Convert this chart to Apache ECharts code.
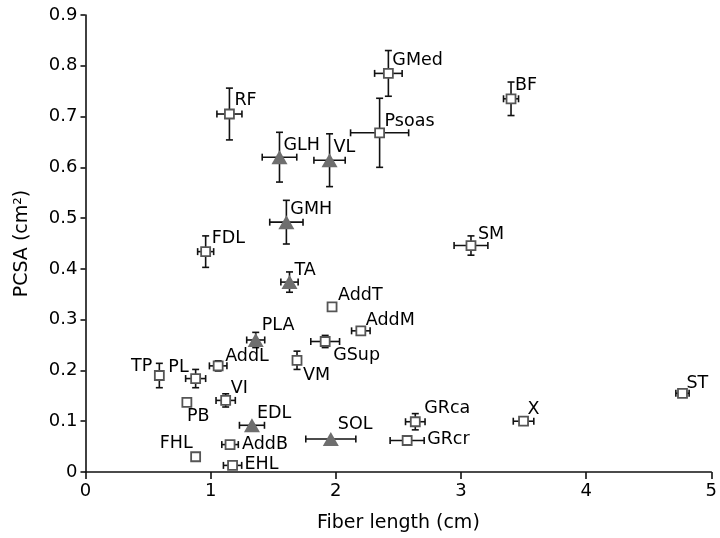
<!DOCTYPE html>
<html>
<head>
<meta charset="utf-8">
<script src="https://cdn.jsdelivr.net/npm/echarts@6/dist/echarts.min.js"></script>
<style>
  html, body { margin: 0; padding: 0; background: #fff; }
  #chart { width: 720px; height: 538px; }
</style>
</head>
<body>
<div id="chart"></div>
<script>
// muscle data: fiber length (cm) and PCSA (cm^2), each with +/- error
var muscles      = ['GMed', 'RF',  'GLH', 'VL',  'Psoas', 'BF',  'GMH', 'FDL', 'TA',  'PLA', 'AddL', 'TP',  'PL',  'VI',  'PB',  'EDL', 'FHL', 'AddB', 'EHL', 'SOL', 'AddT', 'AddM', 'GSup', 'VM',  'GRca', 'GRcr', 'X',   'SM',  'ST'];
var fiberLength  = [2.42,   1.15,  1.55,  1.95,  2.35,    3.40,  1.605, 0.96,  1.63,  1.36,  1.06,   0.59,  0.88,  1.12,  0.81,  1.33,  0.88,  1.155,  1.175, 1.96,  1.97,   2.20,   1.915,  1.69,  2.635,  2.57,   3.50,  3.08,  4.77];
var fiberErr     = [0.11,   0.10,  0.138, 0.125, 0.232,   0.06,  0.133, 0.064, 0.069, 0.072, 0.07,   0,     0.08,  0.077, 0,     0.10,  0,     0.066,  0.073, 0.20,  0,      0.074,  0.115,  0.027, 0.078,  0.136,  0.082, 0.135, 0.053];
var pcsa         = [0.785,  0.705, 0.62,  0.614, 0.668,   0.735, 0.492, 0.434, 0.374, 0.26,  0.209,  0.19,  0.184, 0.141, 0.137, 0.092, 0.03,  0.054,  0.013, 0.065, 0.325,  0.278,  0.257,  0.22,  0.099,  0.062,  0.10,  0.446, 0.155];
var pcsaErr      = [0.045,  0.051, 0.049, 0.052, 0.068,   0.033, 0.043, 0.031, 0.02,  0.015, 0.01,   0.024, 0.018, 0.013, 0,     0,     0,     0,      0,     0,     0,      0,      0.012,  0.018, 0.016,  0,      0,     0.019, 0];
var triangleMuscles = ['GLH', 'VL', 'GMH', 'TA', 'PLA', 'EDL', 'SOL'];
var xTicks = [0, 1, 2, 3, 4, 5];
var yTicks = [0, 0.1, 0.2, 0.3, 0.4, 0.5, 0.6, 0.7, 0.8, 0.9];

// label placement: [dx, dy, align] from the marker centre
var labelAt = {
  GMed: [4, -13, 'left'], RF: [5, -14, 'left'], GLH: [4, -12, 'left'], VL: [4, -13, 'left'],
  Psoas: [5, -11, 'left'], BF: [4, -13, 'left'], GMH: [4, -13, 'left'], FDL: [6, -13, 'left'],
  TA: [5, -12, 'left'], PLA: [6, -15, 'left'], AddL: [7, -9, 'left'], TP: [-7, -9, 'right'],
  PL: [-7, -11, 'right'], VI: [5, -12, 'left'], PB: [0, 14, 'left'], EDL: [5, -12, 'left'],
  FHL: [-3, -13, 'right'], AddB: [12, 0, 'left'], EHL: [12, -1, 'left'], SOL: [7, -15, 'left'],
  AddT: [6, -12, 'left'], AddM: [5, -10, 'left'], GSup: [8, 14, 'left'], VM: [6, 15, 'left'],
  GRca: [9, -13, 'left'], GRcr: [20, -1, 'left'], X: [4, -12, 'left'], SM: [7, -11, 'left'],
  ST: [4, -10, 'left']
};

var FONT = '"DejaVu Sans", sans-serif';

function pointItem(i) {
  var name = muscles[i];
  var p = labelAt[name] || [5, -12, 'left'];
  return {
    name: name,
    value: [fiberLength[i], pcsa[i]],
    label: {
      show: true, position: ['50%', '50%'], formatter: name,
      offset: [p[0], p[1]], align: p[2], verticalAlign: 'middle'
    }
  };
}

var squareData = [], triangleData = [], errData = [];
muscles.forEach(function (m, i) {
  errData.push([fiberLength[i], pcsa[i], fiberErr[i], pcsaErr[i]]);
  if (triangleMuscles.indexOf(m) >= 0) triangleData.push(pointItem(i));
  else squareData.push(pointItem(i));
});

function renderErr(params, api) {
  var x = api.value(0), y = api.value(1), ex = api.value(2), ey = api.value(3);
  var style = { stroke: '#111', lineWidth: 1.6 };
  var cap = 3.5;
  var kids = [];
  if (ex > 0) {
    var a = api.coord([x - ex, y]), b = api.coord([x + ex, y]);
    kids.push({ type: 'line', shape: { x1: a[0], y1: a[1], x2: b[0], y2: b[1] }, style: style });
    kids.push({ type: 'line', shape: { x1: a[0], y1: a[1] - cap, x2: a[0], y2: a[1] + cap }, style: style });
    kids.push({ type: 'line', shape: { x1: b[0], y1: b[1] - cap, x2: b[0], y2: b[1] + cap }, style: style });
  }
  if (ey > 0) {
    var c = api.coord([x, y - ey]), d = api.coord([x, y + ey]);
    kids.push({ type: 'line', shape: { x1: c[0], y1: c[1], x2: d[0], y2: d[1] }, style: style });
    kids.push({ type: 'line', shape: { x1: c[0] - cap, y1: c[1], x2: c[0] + cap, y2: c[1] }, style: style });
    kids.push({ type: 'line', shape: { x1: d[0] - cap, y1: d[1], x2: d[0] + cap, y2: d[1] }, style: style });
  }
  return { type: 'group', children: kids };
}

var labelStyle = { fontSize: 17.5, color: '#000', fontFamily: FONT, textBorderWidth: 0, opacity: 1 };

var chart = echarts.init(document.getElementById('chart'));
chart.setOption({
  animation: false,
  textStyle: { fontFamily: FONT },
  grid: { left: 85.5, right: 6, top: 15, bottom: 66 },
  xAxis: {
    type: 'value', min: xTicks[0], max: xTicks[xTicks.length - 1], interval: 1,
    name: 'Fiber length (cm)', nameLocation: 'middle', nameGap: 42,
    nameTextStyle: { fontSize: 19, color: '#000', fontFamily: FONT },
    axisLine: { lineStyle: { color: '#111', width: 1.6 } },
    axisTick: { show: true, inside: false, length: 7, lineStyle: { color: '#111', width: 1.6 } },
    axisLabel: { fontSize: 18, color: '#000', margin: 10, fontFamily: FONT },
    splitLine: { show: false }
  },
  yAxis: {
    type: 'value', min: yTicks[0], max: yTicks[yTicks.length - 1], interval: 0.1,
    name: 'PCSA (cm²)', nameLocation: 'middle', nameGap: 54,
    nameTextStyle: { fontSize: 19, color: '#000', fontFamily: FONT },
    axisLine: { lineStyle: { color: '#111', width: 1.6 } },
    axisTick: { show: true, inside: false, length: 5, lineStyle: { color: '#111', width: 1.6 } },
    axisLabel: { fontSize: 18, color: '#000', margin: 8, fontFamily: FONT },
    splitLine: { show: false }
  },
  series: [
    {
      type: 'custom', renderItem: renderErr, data: errData,
      encode: { x: 0, y: 1 }, z: 2, clip: false, silent: true
    },
    {
      type: 'scatter', data: squareData, symbol: 'rect', symbolSize: 9, z: 3,
      itemStyle: { color: '#fff', borderColor: '#555', borderWidth: 1.8, opacity: 1 },
      label: labelStyle
    },
    {
      type: 'scatter', data: triangleData, symbol: 'triangle', symbolSize: [16, 14], z: 3,
      itemStyle: { color: '#6e6e6e', opacity: 1 },
      label: labelStyle
    }
  ]
});
</script>
</body>
</html>
